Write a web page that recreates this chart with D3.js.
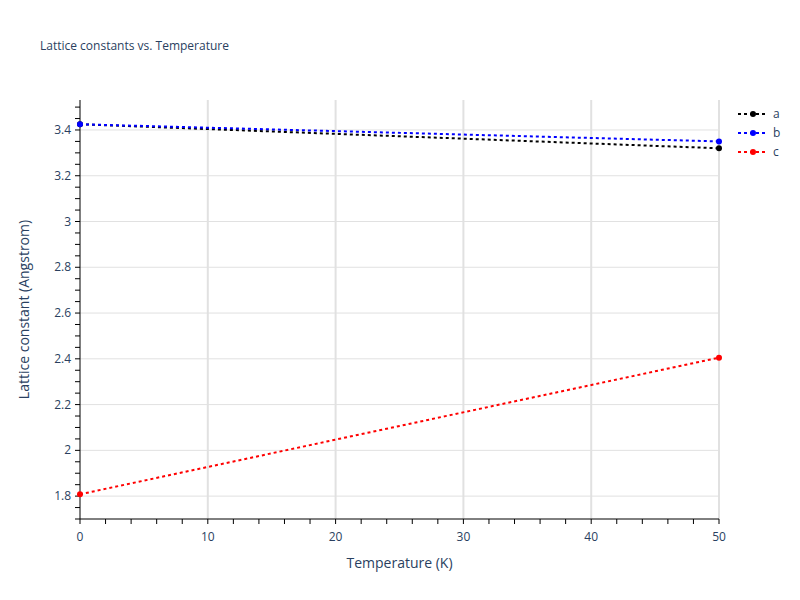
<!DOCTYPE html><html><head><meta charset="utf-8"><script src="https://cdn.jsdelivr.net/npm/d3@7"></script>
<style>body{margin:0;background:#fff}text{font-family:"Open Sans",sans-serif}</style></head><body><svg id="c" width="800" height="600"></svg><script>
const temps=[0,50];
const seriesNames=["a","b","c"];
const seriesColors=["black","blue","red"];
const aVals=[3.425,3.32];
const bVals=[3.425,3.35];
const cVals=[1.808,2.405];
const allVals=[aVals,bVals,cVals];
const xTicks=[0,10,20,30,40,50];
const yTicks=[1.8,2,2.2,2.4,2.6,2.8,3,3.2,3.4];
const svg=d3.select("#c");
const L=80,R=719,T=100,B=519;
const x=d3.scaleLinear().domain([0,50]).range([L,R]);
const y=d3.scaleLinear().domain([1.7,3.531]).range([B,T]);
const g=svg.append("g");
g.selectAll(".gx").data(xTicks.slice(1)).enter().append("line").attr("x1",d=>x(d)).attr("x2",d=>x(d)).attr("y1",T).attr("y2",B).attr("stroke","#e1e1e1").attr("stroke-width",2);
g.selectAll(".gy").data(yTicks).enter().append("line").attr("x1",L).attr("x2",R).attr("y1",d=>y(d)).attr("y2",d=>y(d)).attr("stroke","#e1e1e1").attr("stroke-width",1);
// minor ticks
const xm=d3.range(0,50.01,2), ym=d3.range(1.7,3.531,0.05);
g.selectAll(".mx").data(xm).enter().append("line").attr("x1",d=>x(d)).attr("x2",d=>x(d)).attr("y1",B).attr("y2",B+5).attr("stroke","#000");
g.selectAll(".my").data(ym).enter().append("line").attr("x1",L-5).attr("x2",L).attr("y1",d=>y(d)).attr("y2",d=>y(d)).attr("stroke","#000");
g.append("line").attr("x1",L).attr("x2",R).attr("y1",B).attr("y2",B).attr("stroke","#000");
g.append("line").attr("x1",L).attr("x2",L).attr("y1",T).attr("y2",B).attr("stroke","#000");
g.selectAll(".tx").data(xTicks).enter().append("text").attr("x",d=>x(d)).attr("y",B+22).attr("text-anchor","middle").attr("font-size",12).attr("fill","#2a3f5f").text(d=>d);
g.selectAll(".ty").data(yTicks).enter().append("text").attr("x",L-9).attr("y",d=>y(d)+4).attr("text-anchor","end").attr("font-size",12).attr("fill","#2a3f5f").text(d=>d);
const line=d3.line().x((d,i)=>x(temps[i])).y(d=>y(d));
allVals.forEach((v,k)=>{
 g.append("path").attr("d",line(v)).attr("fill","none").attr("stroke",seriesColors[k]).attr("stroke-width",2).attr("stroke-dasharray","3,3");
 g.selectAll(null).data(v).enter().append("circle").attr("cx",(d,i)=>x(temps[i])).attr("cy",d=>y(d)).attr("r",3).attr("fill",seriesColors[k]);
 const ly=114+k*19;
 g.append("line").attr("x1",738).attr("x2",768).attr("y1",ly).attr("y2",ly).attr("stroke",seriesColors[k]).attr("stroke-width",2).attr("stroke-dasharray","3,3");
 g.append("circle").attr("cx",753).attr("cy",ly).attr("r",3).attr("fill",seriesColors[k]);
 g.append("text").attr("x",773).attr("y",ly+4).attr("font-size",12).attr("fill","#2a3f5f").text(seriesNames[k]);
});
svg.append("text").attr("x",40).attr("y",50).attr("font-size",12).attr("fill","#2a3f5f").text("Lattice constants vs. Temperature");
svg.append("text").attr("x",(L+R)/2).attr("y",568).attr("text-anchor","middle").attr("font-size",14).attr("fill","#2a3f5f").text("Temperature (K)");
svg.append("text").attr("transform",`translate(29,${(T+B)/2}) rotate(-90)`).attr("text-anchor","middle").attr("font-size",14).attr("fill","#2a3f5f").text("Lattice constant (Angstrom)");
</script></body></html>
